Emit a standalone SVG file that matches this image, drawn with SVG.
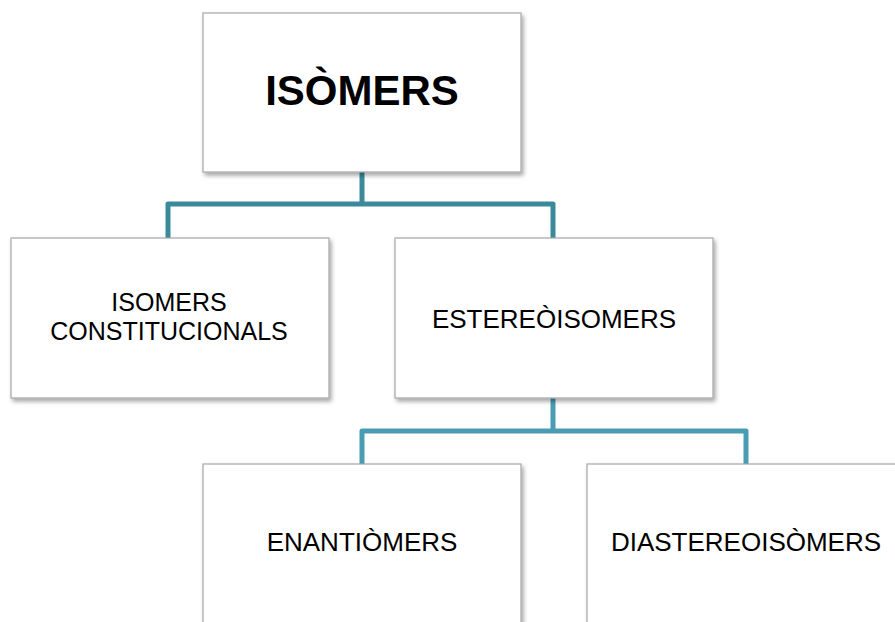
<svg xmlns="http://www.w3.org/2000/svg" width="895" height="622" viewBox="0 0 895 622">
<style>
.box{fill:#ffffff;stroke:#a6a6a6;stroke-width:1.2;filter:url(#sh)}
.t{font-family:"Liberation Sans",Arial,sans-serif;font-size:26px;fill:#000;text-anchor:middle}
.c1{fill:none;stroke:#3b8a9c;stroke-width:5;stroke-linejoin:round}
.c2{fill:none;stroke:#489db5;stroke-width:5;stroke-linejoin:round}
</style>
<defs>
<filter id="sh" x="-10%" y="-10%" width="130%" height="130%">
<feDropShadow dx="2" dy="3" stdDeviation="2" flood-color="#000" flood-opacity="0.35"/>
</filter>
</defs>
<rect width="895" height="622" fill="#fff"/>
<g id="connectors">
<path class="c1" d="M362 172 V204 M168 238 V204 H553 V238"/>
<path class="c2" d="M553 398 V431 M362 464 V431 H746 V464"/>
</g>
<g id="isomers">
<rect class="box" x="203" y="13" width="318" height="159"/>
<text class="t" x="362" y="105" font-weight="bold" style="font-size:42px">ISÒMERS</text>
</g>
<g id="constitucionals">
<rect class="box" x="11" y="238" width="318" height="160"/>
<text class="t" x="169" y="310.5" style="font-size:25px">ISOMERS</text>
<text class="t" x="169" y="339.5" style="font-size:25px">CONSTITUCIONALS</text>
</g>
<g id="estereoisomers">
<rect class="box" x="395" y="238" width="318" height="160"/>
<text class="t" x="554" y="328">ESTEREÒISOMERS</text>
</g>
<g id="enantiomers">
<rect class="box" x="203" y="464" width="318" height="170"/>
<text class="t" x="362" y="551">ENANTIÒMERS</text>
</g>
<g id="diastereoisomers">
<rect class="box" x="587" y="464" width="318" height="170"/>
<text class="t" x="746" y="551">DIASTEREOISÒMERS</text>
</g>
</svg>
